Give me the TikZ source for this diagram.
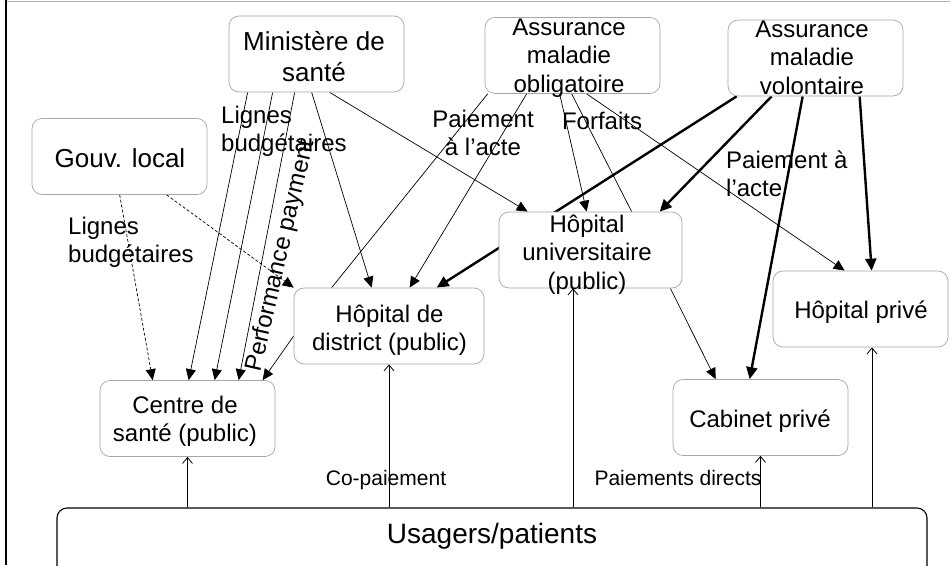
\documentclass[tikz,border=0pt]{standalone}
\usepackage{fontspec}
\setmainfont{Liberation Sans}
\usetikzlibrary{arrows.meta,calc}
\pgfdeclarelayer{back}
\pgfdeclarelayer{bg}
\pgfsetlayers{back,bg,main}
\begin{document}
\begin{tikzpicture}[x=1pt,y=-1pt,
  box/.style={draw=gray!70, line width=0.7pt, rounded corners=10pt, fill=white,
    inner sep=0pt, minimum width=175pt, minimum height=76pt},
  btxt/.style={align=center, inner sep=0pt, font=\fontsize{24}{28.5}\selectfont},
  bigtxt/.style={align=center, inner sep=0pt, font=\fontsize{26}{31.5}\selectfont},
  lbl/.style={inner sep=0pt, font=\fontsize{24}{28}\selectfont},
  slbl/.style={inner sep=0pt, font=\fontsize{21}{25}\selectfont},
  tarr/.style={line width=0.7pt, -{Triangle[length=11pt,width=10pt]}},
  thk/.style={line width=2.4pt, -{Triangle[length=12pt,width=11pt]}},
  plainln/.style={line width=0.7pt},
  dsh/.style={line width=0.7pt, dash pattern=on 3pt off 2pt, -{Triangle[length=11pt,width=10pt]}},
  uparr/.style={line width=0.8pt, -{Straight Barb[length=6pt,width=10pt]}}
]
\useasboundingbox (0,0) rectangle (950,565);
\begin{pgfonlayer}{back}
\fill[white] (0,0) rectangle (950,565);
\draw[gray!60, line width=0.8pt] (6,1) -- (950,1);
\draw[line width=2.5pt] (6,0) -- (6,565);
\end{pgfonlayer}

% boxes
\node[box] (min) at (316.5,54) {};
\node[box] (gouv) at (119.5,156.5) {};
\node[box] (amo) at (572.5,55.5) {};
\node[box] (amv) at (815.5,58) {};
\node[box, minimum width=183pt] (hu) at (590.5,250) {};
\node[box, minimum width=190pt] (hd) at (389,326) {};
\node[box] (cs) at (187.5,418.5) {};
\node[box] (cp) at (760.5,417.5) {};
\node[box] (hp) at (860.5,309) {};
\node[draw=black, line width=1.1pt, rounded corners=10pt, fill=white, inner sep=0pt,
  minimum width=870pt, minimum height=92pt] (us) at (492,554) {};

% box texts
\node[bigtxt, anchor=north] (min-t) at (314,31) {Ministère de\\santé};
\node[bigtxt, anchor=base] (gouv-t) at (120,167) {Gouv. local};
\node[btxt, anchor=north] (amo-t) at (569,18.5) {Assurance\\maladie\\obligatoire};
\node[btxt, anchor=north] (amv-t) at (812,20.5) {Assurance\\maladie\\volontaire};
\node[btxt, anchor=north] (hu-t) at (587,214.5) {Hôpital\\universitaire\\(public)};
\node[btxt, anchor=north] (hd-t) at (389.5,304.5) {Hôpital de\\district (public)};
\node[btxt, anchor=north] (cs-t) at (185,395.5) {Centre de\\santé (public)};
\node[btxt, anchor=base] (cp-t) at (760,427) {Cabinet privé};
\node[btxt, anchor=base] (hp-t) at (861,318) {Hôpital privé};
\node[inner sep=0pt, font=\fontsize{28}{32}\selectfont, anchor=base] (us-t) at (492,543) {Usagers/patients};

% labels
\node[lbl, align=left, anchor=north west] (l1) at (221,105.5) {Lignes\\budgétaires};
\node[lbl, align=left, anchor=north west] (l2) at (68,216.5) {Lignes\\budgétaires};
\node[lbl, align=center, anchor=north] (l3) at (483,109.5) {Paiement\\à l’acte};
\node[lbl, anchor=base] (l4) at (602,129) {Forfaits};
\node[lbl, align=left, anchor=north west] (l5) at (726,150.5) {Paiement à\\l’acte};
\node[slbl, anchor=base] (l6) at (386,485) {Co-paiement};
\node[slbl, anchor=base] (l7) at (678,485) {Paiements directs};
\node[lbl, rotate=77] (l8) at (281,256) {Performance payment};

\begin{pgfonlayer}{bg}
% Ministere
\draw[tarr] ([xshift=19pt]min.south west) -- ([xshift=89pt]cs.north west);
\draw[tarr] ([xshift=44pt]min.south west) -- ([xshift=115pt]cs.north west);
\draw[tarr] ([xshift=66pt]min.south west) -- ([xshift=139pt]cs.north west);
\draw[tarr] ([xshift=83pt]min.south west) -- ([xshift=78pt]hd.north west);
\draw[tarr] ([xshift=101pt]min.south west) -- ([xshift=29pt]hu.north west);
% Gouv local
\draw[dsh] ([xshift=88pt]gouv.south west) -- ([xshift=53pt]cs.north west);
\draw[dsh] ([xshift=135pt]gouv.south west) -- (hd.north west);
% district -> centre
\draw[tarr] ([yshift=-10pt]hd.west) -- ([xshift=163pt]cs.north west);
% AMO
\draw[plainln] ([xshift=38pt]hd.north west) -- ([xshift=3pt]amo.south west);
\draw[tarr] ([xshift=42pt]amo.south west) -- ([xshift=116pt]hd.north west);
\draw[tarr] ([xshift=75pt]amo.south west) -- ([xshift=88pt]hu.north west);
\draw[plainln] ([xshift=87pt]amo.south west) -- ([xshift=133pt]hu.north west);
\draw[tarr] ([xshift=102pt]amo.south west) -- ([xshift=72pt]hp.north west);
% AMV
\draw[thk] ([xshift=9pt]amv.south west) -- ([xshift=143pt]hd.north west);
\draw[thk] ([xshift=44pt]amv.south west) -- ([xshift=161pt]hu.north west);
\draw[thk] ([xshift=75pt]amv.south west) -- ([xshift=77pt]cp.north west);
\draw[thk] ([xshift=132pt]amv.south west) -- ([xshift=99pt]hp.north west);
% HU -> cabinet
\draw[tarr] ([xshift=-12pt]hu.south east) -- ([xshift=43pt]cp.north west);
% patients
\draw[uparr] (cs.south |- us.north) -- (cs.south);
\draw[uparr] (hd.south |- us.north) -- (hd.south);
\draw[uparr] ([xshift=-17.5pt]hu.south |- us.north) -- ([xshift=-17.5pt]hu.south);
\draw[uparr] (cp.south |- us.north) -- (cp.south);
\draw[uparr] ([xshift=11.5pt]hp.south |- us.north) -- ([xshift=11.5pt]hp.south);
\end{pgfonlayer}
\end{tikzpicture}
\end{document}
